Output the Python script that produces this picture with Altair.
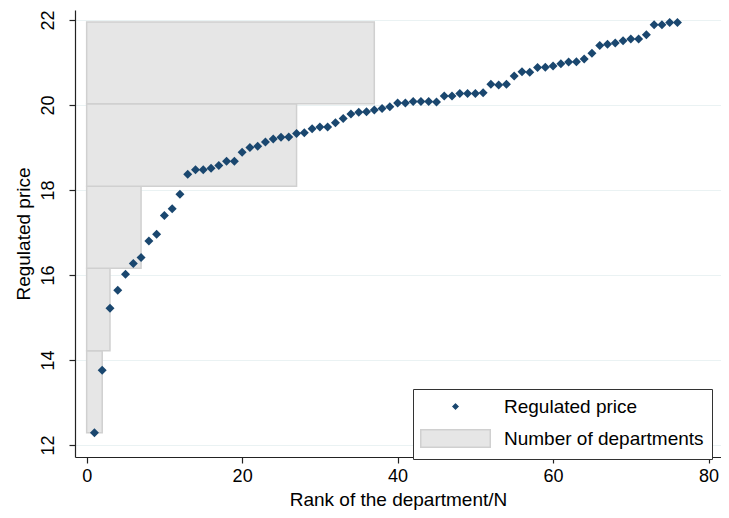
import altair as alt
import pandas as pd

# ---- data ----
rank = list(range(1, 77))
price = [
    12.29, 13.76, 15.22, 15.64, 16.02, 16.27, 16.41, 16.80, 16.96, 17.40,
    17.56, 17.90, 18.37, 18.48, 18.48, 18.51, 18.58, 18.68, 18.68, 18.89,
    19.00, 19.03, 19.13, 19.20, 19.24, 19.25, 19.33, 19.35, 19.44, 19.48,
    19.48, 19.58, 19.68, 19.79, 19.83, 19.84, 19.88, 19.92, 19.96, 20.05,
    20.05, 20.08, 20.08, 20.08, 20.07, 20.21, 20.21, 20.27, 20.27, 20.27,
    20.29, 20.49, 20.47, 20.49, 20.68, 20.78, 20.77, 20.88, 20.89, 20.92,
    20.97, 21.01, 21.02, 21.08, 21.22, 21.40, 21.43, 21.46, 21.51, 21.55,
    21.55, 21.65, 21.89, 21.89, 21.94, 21.94,
]
bin_lo = [12.29, 14.22, 16.16, 18.09, 20.03]
bin_hi = [14.22, 16.16, 18.09, 20.03, 21.95]
n_departments = [2, 3, 7, 27, 37]
bar_base = [0, 0, 0, 0, 0]
series_names = ["Regulated price", "Number of departments"]
x_ticks = [0, 20, 40, 60, 80]
y_ticks = [12, 14, 16, 18, 20, 22]

FONT = "Liberation Sans"
NAVY = "#1a476f"
BAR_FILL = "#e6e6e6"
BAR_EDGE = "#d0d0d0"

pts = pd.DataFrame({"rank": rank, "price": price, "series": series_names[0]})
bars = pd.DataFrame({"lo": bin_lo, "hi": bin_hi, "count": n_departments,
                     "base": bar_base, "series": series_names[1]})

DIAMOND = "M0,-1L1,0L0,1L-1,0Z"
SWATCH = "M-7.72,-1.94H7.72V1.94H-7.72Z"

legend = alt.Legend(
    title=None, orient="none", legendX=338, legendY=379,
    padding=8, strokeColor="#333333", fillColor="#ffffff",
    symbolSize=81, symbolStrokeWidth=1.5, symbolOffset=25, symbolOpacity=1,
    labelOffset=39, rowPadding=9, labelLimit=400,
    labelFont=FONT, labelFontSize=19, labelColor="#000000",
)

color_scale = alt.Scale(domain=series_names, range=[NAVY, BAR_FILL])
stroke_scale = alt.Scale(domain=series_names, range=["#ffffff", BAR_EDGE])
shape_scale = alt.Scale(domain=series_names, range=[DIAMOND, SWATCH])

x_scale = alt.Scale(domain=[-1.5, 81.6], nice=False, zero=False)
y_scale = alt.Scale(domain=[11.72, 22.235], nice=False, zero=False)

x_axis = alt.Axis(
    values=x_ticks, title="Rank of the department/N", grid=False,
    labelFlush=False, labelPadding=4, titlePadding=5,
)
y_axis = alt.Axis(
    values=y_ticks, title="Regulated price", grid=True,
    labelAngle=270, labelAlign="center", labelBaseline="bottom",
    labelPadding=12, titlePadding=6, labelFlush=False,
)

bar_layer = alt.Chart(bars).mark_rect(strokeWidth=1.5, opacity=1).encode(
    x=alt.X("count:Q", scale=x_scale, axis=x_axis),
    x2="base:Q",
    y=alt.Y("lo:Q", scale=y_scale, axis=y_axis),
    y2="hi:Q",
    color=alt.Color("series:N", scale=color_scale, legend=legend),
    stroke=alt.Stroke("series:N", scale=stroke_scale, legend=legend),
)

point_layer = alt.Chart(pts).mark_point(
    filled=True, size=81, opacity=1, strokeWidth=0
).encode(
    x=alt.X("rank:Q", scale=x_scale, axis=x_axis),
    y=alt.Y("price:Q", scale=y_scale, axis=y_axis),
    color=alt.Color("series:N", scale=color_scale, legend=legend),
    stroke=alt.Stroke("series:N", scale=stroke_scale, legend=legend),
    shape=alt.Shape("series:N", scale=shape_scale, legend=legend),
)

chart = alt.layer(bar_layer, point_layer).properties(
    width=646, height=447,
    autosize=alt.AutoSizeParams(type="none"),
    padding={"left": 67, "top": 2, "right": 0, "bottom": 53},
    background="#ffffff",
).configure_view(
    stroke=None
).configure_axis(
    domainColor="#222222", domainWidth=1.2,
    tickColor="#222222", tickWidth=1.2, tickSize=6,
    gridColor="#eaf2f3", gridWidth=1.2,
    labelFont=FONT, labelFontSize=18, labelColor="#000000",
    titleFont=FONT, titleFontSize=19, titleColor="#000000", titleFontWeight="normal",
)

chart.save("out.html", embed_options={"renderer": "svg", "actions": False})
